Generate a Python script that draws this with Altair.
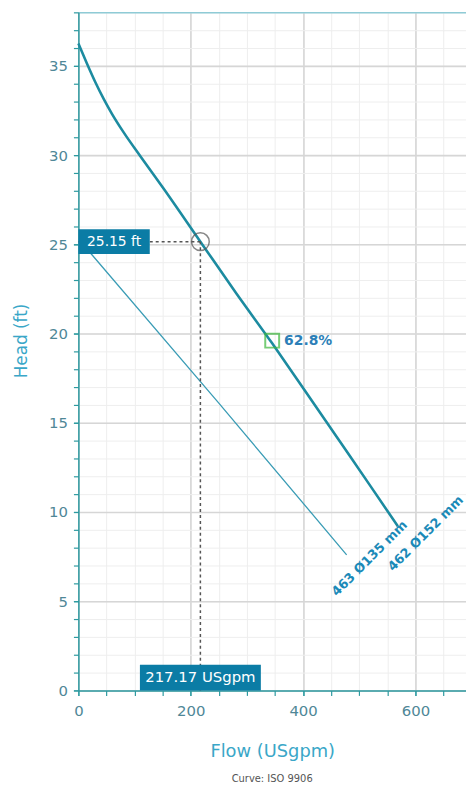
import altair as alt
import pandas as pd

# ---- data ----
main_flow = [0, 15, 30, 45, 60, 80, 110, 150, 217.17, 280, 345, 400, 460, 520, 568.7]
main_head = [36.25, 35.15, 34.1, 33.15, 32.3, 31.3, 29.95, 28.2, 25.15, 22.3, 19.45, 16.95, 14.2, 11.45, 9.2]
small_flow = [0, 24.5, 250, 477.5]
small_head = [25.3, 24.4, 16.1, 7.6]
main_name = "462 Ø152 mm"
small_name = "463 Ø135 mm"
duty_flow = 217.17
duty_head = 25.15
duty_flow_label = "217.17 USgpm"
duty_head_label = "25.15 ft"
eff_flow = 345
eff_head = 19.6
eff_label = "62.8%"
x_major = [0, 200, 400, 600]
x_minor = [0, 50, 100, 150, 200, 250, 300, 350, 400, 450, 500, 550, 600, 650]
y_major = [0, 5, 10, 15, 20, 25, 30, 35]
y_minor = [0, 1, 2, 3, 4, 5, 6, 7, 8, 9, 10, 11, 12, 13, 14, 15, 16, 17, 18, 19,
           20, 21, 22, 23, 24, 25, 26, 27, 28, 29, 30, 31, 32, 33, 34, 35, 36, 37, 38]

FONT = "DejaVu Sans"
AXIS = "#2e9aa0"
LABEL = "#4f8797"
TITLE = "#3aa7c8"
CURVE = "#1c8ba0"
THIN = "#3a9cb5"
BOX = "#0b7ca5"
TXT = "#1b8ab8"

main_df = pd.DataFrame({"flow": main_flow, "head": main_head})
small_df = pd.DataFrame({"flow": small_flow, "head": small_head})
duty_df = pd.DataFrame({"flow": [duty_flow], "head": [duty_head], "zero": [0],
                        "flabel": [duty_flow_label], "hlabel": [duty_head_label]})
eff_df = pd.DataFrame({"flow": [eff_flow], "head": [eff_head], "label": [eff_label]})
end_main = pd.DataFrame({"flow": [main_flow[-1]], "head": [main_head[-1]], "label": [main_name]})
end_small = pd.DataFrame({"flow": [small_flow[-1]], "head": [small_head[-1]], "label": [small_name]})

xs = alt.Scale(domain=[0, 690], nice=False, zero=False)
ys = alt.Scale(domain=[0, 38], nice=False, zero=False)


def X(field="flow", axis=None):
    return alt.X(f"{field}:Q", scale=xs, axis=axis)


def Y(field="head", axis=None):
    return alt.Y(f"{field}:Q", scale=ys, axis=axis)


minor = alt.Chart(main_df).mark_line(opacity=0).encode(
    x=X(axis=alt.Axis(orient="bottom", values=x_minor, labels=False, title=None, domain=False,
                      grid=True, gridColor="#eeeeee", gridWidth=1, ticks=True, tickSize=5,
                      tickColor=AXIS, tickWidth=1.2)),
    y=Y(axis=alt.Axis(orient="left", values=y_minor, labels=False, title=None, domain=False,
                      grid=True, gridColor="#eeeeee", gridWidth=1, ticks=True, tickSize=5,
                      tickColor=AXIS, tickWidth=1.2)),
)

major = alt.Chart(main_df).mark_line(opacity=0).encode(
    x=X(axis=alt.Axis(orient="bottom", values=x_major, grid=True, gridColor="#d6d6d6",
                      gridWidth=1.6, ticks=True, tickSize=5, tickColor=AXIS, tickWidth=1.2,
                      domain=True, domainColor=AXIS, domainWidth=1.5, labelFlush=False,
                      labelFont=FONT, labelFontSize=15, labelColor=LABEL, labelPadding=8,
                      title="Flow (USgpm)", titleFont=FONT, titleFontSize=18,
                      titleFontWeight="normal", titleColor=TITLE,
                      titleY=62, titleBaseline="middle")),
    y=Y(axis=alt.Axis(orient="left", values=y_major, grid=True, gridColor="#d6d6d6",
                      gridWidth=1.6, ticks=True, tickSize=5, tickColor=AXIS, tickWidth=1.2,
                      domain=True, domainColor=AXIS, domainWidth=1.5, labelFlush=False,
                      labelFont=FONT, labelFontSize=15, labelColor=LABEL, labelPadding=6,
                      title="Head (ft)", titleFont=FONT, titleFontSize=17,
                      titleFontWeight="normal", titleColor=TITLE,
                      titleX=-57, titleY=331, titleBaseline="middle", titleAngle=270)),
)

top = alt.Chart(main_df).mark_line(opacity=0).encode(
    x=X(axis=alt.Axis(orient="top", labels=False, ticks=False, grid=False, title=None,
                      domain=True, domainColor="#8fcbd6", domainWidth=1.5)),
    y=Y(),
)

small_line = alt.Chart(small_df).mark_line(color=THIN, strokeWidth=1.3).encode(x=X(), y=Y())
main_line = alt.Chart(main_df).mark_line(color=CURVE, strokeWidth=2.6,
                                         interpolate="monotone").encode(x=X(), y=Y())

hdash = alt.Chart(duty_df).mark_rule(color="#555555", strokeDash=[3, 3], strokeWidth=1.5).encode(
    x=X("zero"), x2="flow:Q", y=Y())
vdash = alt.Chart(duty_df).mark_rule(color="#555555", strokeDash=[3, 3], strokeWidth=1.5).encode(
    x=X(), y=Y("zero"), y2="head:Q")

circle = alt.Chart(duty_df).mark_point(shape="circle", filled=False, size=320, color="#555555",
                                       strokeWidth=1.5).encode(x=X(), y=Y())

hbox = alt.Chart(duty_df).mark_rect(color=BOX, x2Offset=72, yOffset=-12.5, y2Offset=12.5).encode(
    x=X("zero"), x2="zero:Q", y=Y(), y2="head:Q")
htext = alt.Chart(duty_df).mark_text(color="white", font=FONT, fontSize=14, dx=36,
                                     align="center", baseline="middle").encode(
    x=X("zero"), y=Y(), text="hlabel:N")

fbox = alt.Chart(duty_df).mark_rect(color=BOX, xOffset=-61, x2Offset=61, y2Offset=-26).encode(
    x=X(), x2="flow:Q", y=Y("zero"), y2="zero:Q")
ftext = alt.Chart(duty_df).mark_text(color="white", font=FONT, fontSize=15, dy=-13,
                                     align="center", baseline="middle").encode(
    x=X(), y=Y("zero"), text="flabel:N")

eff_pt = alt.Chart(eff_df).mark_point(shape="square", filled=False, size=196, color="#3db83d",
                                      strokeWidth=2).encode(x=X(), y=Y())
eff_txt = alt.Chart(eff_df).mark_text(color="#2c7fb8", font=FONT, fontSize=14, fontWeight="bold",
                                      align="left", baseline="middle", dx=12).encode(
    x=X(), y=Y(), text="label:N")

lab_main = alt.Chart(end_main).mark_text(color=TXT, font=FONT, fontSize=13, fontWeight="bold",
                                         angle=315, align="left", baseline="middle",
                                         dx=-36, dy=25).encode(x=X(), y=Y(), text="label:N")
lab_small = alt.Chart(end_small).mark_text(color=TXT, font=FONT, fontSize=13, fontWeight="bold",
                                           angle=315, align="left", baseline="middle",
                                           dx=-37, dy=19).encode(x=X(), y=Y(), text="label:N")

chart = alt.layer(
    minor, major, top, small_line, main_line, hdash, vdash, circle,
    hbox, htext, fbox, ftext, eff_pt, eff_txt, lab_main, lab_small,
).resolve_axis(x="independent", y="independent").properties(
    width=391, height=684,
    autosize=alt.AutoSizeParams(type="none"),
    padding={"left": 71, "top": 1, "right": 0, "bottom": 91},
    title=alt.TitleParams(text="Curve: ISO 9906", orient="bottom", anchor="middle",
                          font=FONT, fontSize=10, fontWeight="normal", color="#555555",
                          offset=13),
).configure_view(stroke=None)

chart.save("out.html", embed_options={"renderer": "svg", "actions": False})
